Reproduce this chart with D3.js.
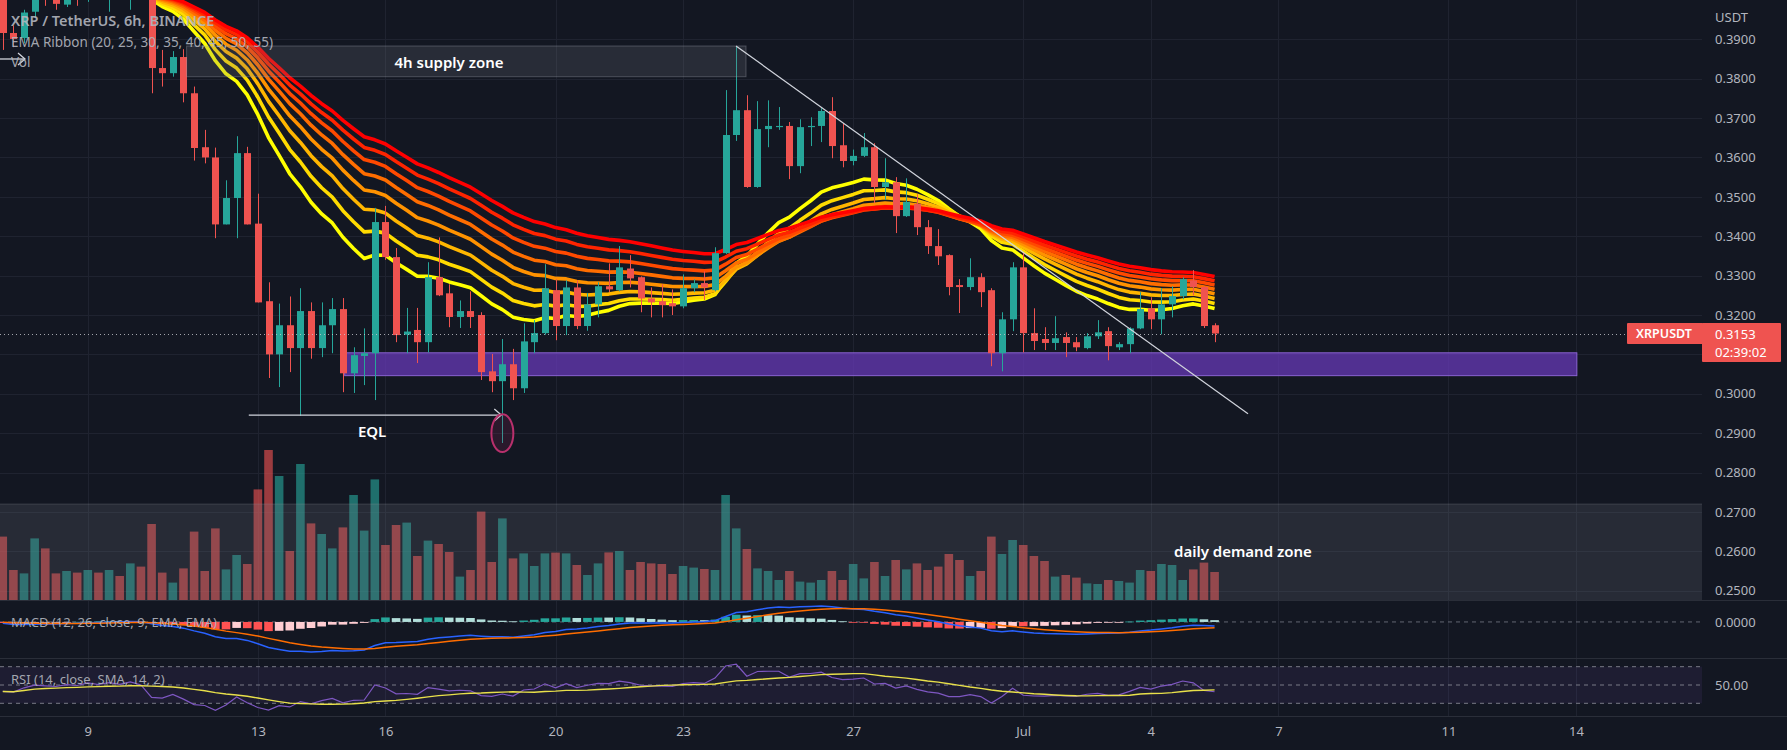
<!DOCTYPE html>
<html><head><meta charset="utf-8">
<script src="https://cdn.jsdelivr.net/npm/d3@7"></script>
<style>html,body{margin:0;padding:0;background:#131722;overflow:hidden}svg{display:block}</style>
</head><body>
<svg id="c" width="1787" height="750"></svg>
<script>
// ---------------- DATA ----------------
const firstCandle = "2022-06-07T00:00Z";   // 6h candles, XRP/USDT Binance
const opens  = [0.4035,0.3916,0.3903,0.3970,0.4012,0.4000,0.3988,0.4018,0.4005,0.4040,0.4020,0.4045,0.4025,0.4055,0.4020,0.3827,0.3814,0.3855,0.3763,0.3626,0.3600,0.3430,0.3497,0.3611,0.3432,0.3235,0.3100,0.3174,0.3116,0.3210,0.3116,0.3174,0.3215,0.3052,0.3096,0.3103,0.3436,0.3347,0.3150,0.3162,0.3131,0.3296,0.3255,0.3195,0.3210,0.3200,0.3057,0.3032,0.3075,0.3014,0.3131,0.3154,0.3263,0.3172,0.3270,0.3172,0.3227,0.3273,0.3263,0.3318,0.3296,0.3242,0.3235,0.3230,0.3222,0.3268,0.3281,0.3263,0.3357,0.3657,0.3720,0.3525,0.3672,0.3677,0.3680,0.3578,0.3677,0.3680,0.3718,0.3631,0.3591,0.3604,0.3626,0.3525,0.3537,0.3451,0.3482,0.3423,0.3375,0.3352,0.3276,0.3271,0.3296,0.3263,0.3103,0.3189,0.3321,0.3154,0.3139,0.3129,0.3144,0.3131,0.3116,0.3146,0.3159,0.3118,0.3126,0.3166,0.3217,0.3189,0.3227,0.3248,0.3288,0.3271,0.3174];
const highs  = [0.4060,0.3935,0.3975,0.4040,0.4050,0.4025,0.4040,0.4045,0.4060,0.4070,0.4065,0.4070,0.4075,0.4080,0.4040,0.3873,0.3870,0.3875,0.3780,0.3670,0.3625,0.3542,0.3654,0.3627,0.3508,0.3283,0.3229,0.3247,0.3268,0.3232,0.3232,0.3243,0.3243,0.3118,0.3166,0.3472,0.3477,0.3370,0.3218,0.3218,0.3334,0.3397,0.3278,0.3237,0.3260,0.3207,0.3101,0.3139,0.3114,0.3179,0.3187,0.3329,0.3291,0.3288,0.3288,0.3256,0.3283,0.3331,0.3375,0.3352,0.3298,0.3270,0.3278,0.3265,0.3303,0.3291,0.3311,0.3372,0.3771,0.3883,0.3758,0.3743,0.3745,0.3728,0.3690,0.3697,0.3702,0.3725,0.3753,0.3687,0.3620,0.3662,0.3636,0.3598,0.3550,0.3547,0.3507,0.3441,0.3418,0.3354,0.3291,0.3344,0.3306,0.3268,0.3207,0.3334,0.3359,0.3217,0.3169,0.3197,0.3156,0.3144,0.3154,0.3187,0.3169,0.3131,0.3169,0.3258,0.3245,0.3268,0.3273,0.3296,0.3314,0.3273,0.3179];
const lows   = [0.3873,0.3880,0.3890,0.3955,0.3985,0.3975,0.3982,0.3985,0.3995,0.4005,0.3970,0.4010,0.3975,0.4000,0.3763,0.3780,0.3805,0.3740,0.3592,0.3585,0.3395,0.3430,0.3395,0.3430,0.3232,0.3040,0.3017,0.3055,0.2944,0.3089,0.3093,0.3103,0.3004,0.3002,0.3022,0.2984,0.3340,0.3131,0.3103,0.3078,0.3105,0.3248,0.3169,0.3167,0.3167,0.3035,0.3004,0.2875,0.2984,0.3002,0.3103,0.3150,0.3136,0.3149,0.3164,0.3160,0.3194,0.3258,0.3260,0.3270,0.3207,0.3194,0.3194,0.3200,0.3217,0.3258,0.3238,0.3260,0.3355,0.3642,0.3523,0.3523,0.3626,0.3670,0.3545,0.3560,0.3629,0.3639,0.3598,0.3575,0.3580,0.3601,0.3484,0.3492,0.3408,0.3449,0.3403,0.3355,0.3327,0.3250,0.3205,0.3263,0.3220,0.3070,0.3057,0.3159,0.3105,0.3111,0.3111,0.3111,0.3093,0.3108,0.3113,0.3139,0.3085,0.3111,0.3103,0.3164,0.3164,0.3151,0.3194,0.3240,0.3250,0.3167,0.3131];
const closes = [0.3916,0.3901,0.3968,0.4012,0.4000,0.3990,0.4018,0.4005,0.4040,0.4020,0.4045,0.4025,0.4055,0.4020,0.3827,0.3814,0.3855,0.3763,0.3624,0.3600,0.3430,0.3497,0.3611,0.3430,0.3232,0.3100,0.3174,0.3116,0.3210,0.3116,0.3174,0.3215,0.3052,0.3098,0.3103,0.3436,0.3347,0.3149,0.3158,0.3131,0.3296,0.3250,0.3195,0.3210,0.3195,0.3055,0.3032,0.3075,0.3014,0.3133,0.3154,0.3268,0.3172,0.3270,0.3172,0.3227,0.3273,0.3265,0.3321,0.3293,0.3242,0.3232,0.3225,0.3222,0.3268,0.3281,0.3270,0.3357,0.3657,0.3720,0.3525,0.3672,0.3680,0.3680,0.3578,0.3677,0.3680,0.3718,0.3629,0.3591,0.3604,0.3626,0.3525,0.3537,0.3451,0.3487,0.3423,0.3375,0.3349,0.3271,0.3271,0.3296,0.3258,0.3103,0.3189,0.3321,0.3154,0.3134,0.3129,0.3141,0.3129,0.3118,0.3146,0.3156,0.3121,0.3126,0.3166,0.3215,0.3189,0.3227,0.3248,0.3291,0.3271,0.3172,0.3153];
const volumes = [31.7,15,13.3,30.8,25.8,13.3,14.5,13.7,15,13.7,15,12,18.3,16.7,38,13.7,8.7,15.8,34.2,14.5,35.8,15.3,22.5,18,55.3,75,62,24.5,68,38.3,33,25.8,36.3,52.5,34.7,60.3,27.5,37.5,38.7,22,29.7,28,24,11.7,15,44.2,19,40.8,20.8,23.3,17,23.3,23.7,23.3,17.5,12.5,18.3,23.8,24.5,15,19,18.3,18,13,17,16.2,15.5,15,52.5,35.8,25.5,15.8,14.5,10,14.5,9.2,8.7,10,14.5,10,18,10.8,19,12,20,15.3,18.3,15,16.7,23,20,12,14.5,31.7,23,30,27.5,22,19.5,11.7,12.5,11.2,8.3,8,10,9.5,8.7,15,14.5,18,17.5,10,15.3,18.7,14];
const priorLevel = 0.4035;            // price level before the first visible bar (seeds EMAs)
const rsiSeedGain = 0.0028, rsiSeedLoss = 0.0028;
const ribbonLengths = [20,25,30,35,40,45,50,55];
const priceGrid  = [0.39,0.38,0.37,0.36,0.35,0.34,0.33,0.32,0.31,0.30,0.29,0.28,0.27,0.26,0.25];
const priceTicks = [0.39,0.38,0.37,0.36,0.35,0.34,0.33,0.32,0.30,0.29,0.28,0.27,0.26,0.25]; // 0.3100 hidden under price tag
const timeTickDates  = ["2022-06-09","2022-06-13","2022-06-16","2022-06-20","2022-06-23","2022-06-27","2022-07-01","2022-07-04","2022-07-07","2022-07-11","2022-07-14"];
const timeTickLabels = ["9","13","16","20","23","27","Jul","4","7","11","14"];
const lastPrice = 0.3153, countdown = "02:39:02";
// drawings (time, price)
const supplyZone = {t0:"2022-06-11T07:46Z", t1:"2022-06-24T11:31Z", p0:0.3883, p1:0.3805, label:"4h supply zone", lt:"2022-06-17T11:53Z", lp:0.3843};
const demandZone = {t0:"2022-06-01T00:00Z", t1:"2022-07-31T00:00Z", p0:0.2720, p1:0.2400, label:"daily demand zone", lt:"2022-07-06T04:00Z", lp:0.2600};
const purpleZone = {t0:"2022-06-15T01:00Z", t1:"2022-07-14T00:29Z", p0:0.3104, p1:0.3046};
const trendLine  = {t0:"2022-06-24T05:53Z", p0:0.3883, t1:"2022-07-06T06:52Z", p1:0.2949};
const eqlLine    = {t0:"2022-06-12T18:52Z", t1:"2022-06-18T17:24Z", p:0.2946, label:"EQL", lt:"2022-06-15T16:28Z", lp:0.2906};
const sweepEllipse = {t:"2022-06-18T18:00Z", p:0.2900, hours:6.2, dp:0.0048};
const leftArrow  = {t0:"2022-06-06T22:00Z", t1:"2022-06-07T12:33Z", p:0.3850};

// ---------------- CHART ----------------
const W=1787, H=750, PR=1702;
const MAIN=[0,600], MACDP=[600,658], RSIP=[658,716];
const BG="#131722", TXT="#b2b5be", GRID="#1f2330", UP="#26a69a", DN="#ef5350";
const FONT="'Noto Sans', 'Liberation Sans', sans-serif";
const svg=d3.select("#c");
svg.append("rect").attr("width",W).attr("height",H).attr("fill",BG);

const x=d3.scaleUtc().domain([new Date("2022-06-09T00:00Z"),new Date("2022-07-14T00:00Z")]).range([87.8,1576]);
const y=d3.scaleLinear().domain([0.25,0.39]).range([590.7,39.3]);
const yVol=d3.scaleLinear().domain([0,75]).range([600,450]);
const yRsi=d3.scaleLinear().domain([30,70]).range([703.3,666.7]);
const t0=new Date(firstCandle).getTime();
const times=closes.map((_,i)=>new Date(t0+i*6*3600e3));
const T=s=>new Date(s);

const defs=svg.append("defs");
[["cm",MAIN],["cmacd",MACDP],["crsi",RSIP]].forEach(([id,r])=>{
  defs.append("clipPath").attr("id",id).append("rect").attr("x",0).attr("y",r[0]).attr("width",PR).attr("height",r[1]-r[0]);
});

// grid
const grid=svg.append("g");
timeTickDates.forEach(d=>{
  const xx=Math.round(x(T(d+"T00:00Z")))+0.5;
  grid.append("line").attr("x1",xx).attr("x2",xx).attr("y1",0).attr("y2",716).attr("stroke",GRID);
});
priceGrid.forEach(p=>{
  const yy=Math.round(y(p))+0.5;
  grid.append("line").attr("x1",0).attr("x2",PR).attr("y1",yy).attr("y2",yy).attr("stroke",GRID);
});
// pane separators
[600,658,716].forEach(v=>svg.append("line").attr("x1",0).attr("x2",W).attr("y1",v+0.5).attr("y2",v+0.5).attr("stroke","#2a2e39").attr("stroke-width",1));

const main=svg.append("g").attr("clip-path","url(#cm)");
const bw=8.6;
// volume
main.selectAll(".v").data(volumes).join("rect")
  .attr("x",(d,i)=>x(times[i])-bw/2).attr("width",bw)
  .attr("y",d=>yVol(d)).attr("height",d=>600-yVol(d))
  .attr("fill",(d,i)=>closes[i]>=opens[i]?UP:DN).attr("opacity",0.62);

// demand zone (over volume)
main.append("rect").attr("x",x(T(demandZone.t0))).attr("width",x(T(demandZone.t1))-x(T(demandZone.t0)))
  .attr("y",y(demandZone.p0)).attr("height",y(demandZone.p1)-y(demandZone.p0))
  .attr("fill","rgba(120,123,134,0.2)").attr("stroke","rgba(150,153,164,0.25)");

// purple zone (under candles)
main.append("rect").attr("x",x(T(purpleZone.t0))).attr("width",x(T(purpleZone.t1))-x(T(purpleZone.t0)))
  .attr("y",y(purpleZone.p0)).attr("height",y(purpleZone.p1)-y(purpleZone.p0))
  .attr("fill","rgba(103,58,183,0.75)").attr("stroke","#8a63d2").attr("stroke-width",1);

// EMA ribbon
function ema(vals,len,seed){const a=2/(len+1);let e=seed;return vals.map(v=>(e=e+a*(v-e)));}
const ribbonColor=d3.interpolateRgb("#ffff00","#ff0000");
const line=d3.line().x((d,i)=>x(times[i])).y(d=>y(d));
ribbonLengths.forEach((len,k)=>{
  main.append("path").attr("d",line(ema(closes,len,priorLevel))).attr("fill","none")
    .attr("stroke",ribbonColor(k/(ribbonLengths.length-1))).attr("stroke-width",3.6).attr("stroke-linejoin","round");
});

// candles
const cg=main.append("g");
closes.forEach((c,i)=>{
  const xx=Math.round(x(times[i]))+0.5, col=c>=opens[i]?UP:DN;
  cg.append("line").attr("x1",xx).attr("x2",xx).attr("y1",y(highs[i])).attr("y2",y(lows[i])).attr("stroke",col).attr("stroke-width",1);
  const top=Math.min(y(opens[i]),y(c)), h=Math.max(1,Math.abs(y(opens[i])-y(c)));
  cg.append("rect").attr("x",xx-3.5).attr("width",7).attr("y",top).attr("height",h).attr("fill",col);
});

// supply zone
main.append("rect").attr("x",x(T(supplyZone.t0))).attr("width",x(T(supplyZone.t1))-x(T(supplyZone.t0)))
  .attr("y",y(supplyZone.p0)).attr("height",y(supplyZone.p1)-y(supplyZone.p0))
  .attr("fill","rgba(120,123,134,0.22)").attr("stroke","rgba(160,163,174,0.35)");
function note(t,p,s){
  main.append("text").attr("x",x(T(t))).attr("y",y(p)).attr("text-anchor","middle").attr("dominant-baseline","central")
    .attr("fill","#ffffff").attr("font-family",FONT).attr("font-size",15).attr("font-weight",600).text(s);
}
note(supplyZone.lt,supplyZone.lp,supplyZone.label);
note(demandZone.lt,demandZone.lp,demandZone.label);

// trend line
main.append("line").attr("x1",x(T(trendLine.t0))).attr("y1",y(trendLine.p0)).attr("x2",x(T(trendLine.t1))).attr("y2",y(trendLine.p1))
  .attr("stroke","#d1d4dc").attr("stroke-width",1.2);
// EQL arrow
function arrow(g,x1,x2,yy){
  g.append("line").attr("x1",x1).attr("x2",x2).attr("y1",yy).attr("y2",yy).attr("stroke","#d1d4dc").attr("stroke-width",1.3);
  g.append("path").attr("d",`M${x2-7},${yy-6}L${x2},${yy}L${x2-7},${yy+6}`).attr("fill","none").attr("stroke","#d1d4dc").attr("stroke-width",1.3);
}
arrow(main,x(T(eqlLine.t0)),x(T(eqlLine.t1)),y(eqlLine.p));
note(eqlLine.lt,eqlLine.lp,eqlLine.label);
arrow(main,x(T(leftArrow.t0)),x(T(leftArrow.t1)),y(leftArrow.p));
// ellipse
{
  const ct=T(sweepEllipse.t), cx=x(ct);
  const rx=x(new Date(ct.getTime()+sweepEllipse.hours*3600e3))-cx;
  const ry=y(sweepEllipse.p-sweepEllipse.dp)-y(sweepEllipse.p);
  main.append("ellipse").attr("cx",cx).attr("cy",y(sweepEllipse.p)).attr("rx",rx).attr("ry",ry)
    .attr("fill","rgba(156,39,96,0.18)").attr("stroke","#b8306c").attr("stroke-width",2);
}

// current price line
main.append("line").attr("x1",0).attr("x2",PR).attr("y1",Math.round(y(lastPrice))+0.5).attr("y2",Math.round(y(lastPrice))+0.5)
  .attr("stroke","#c8cad0").attr("stroke-dasharray","1,3").attr("opacity",0.8);

// ---------------- MACD ----------------
const e12=ema(closes,12,priorLevel), e26=ema(closes,26,priorLevel);
const macd=e12.map((v,i)=>v-e26[i]);
const signal=ema(macd,9,0);
const hist=macd.map((v,i)=>v-signal[i]);
const mAll=macd.concat(signal,hist);
const yM=d3.scaleLinear().domain([d3.min(mAll),d3.max(mAll)]).range([652,606]);
const mg=svg.append("g").attr("clip-path","url(#cmacd)");
mg.append("line").attr("x1",0).attr("x2",PR).attr("y1",yM(0)).attr("y2",yM(0)).attr("stroke","#787b86").attr("stroke-dasharray","4,4").attr("opacity",0.8);
hist.forEach((h,i)=>{
  const prev=i>0?hist[i-1]:0;
  const col=h>=0?(h>prev?"#26a69a":"#b2dfdb"):(h<prev?"#ff5252":"#ffcdd2");
  mg.append("rect").attr("x",x(times[i])-4.3).attr("width",8.6).attr("y",Math.min(yM(0),yM(h))).attr("height",Math.max(0.8,Math.abs(yM(h)-yM(0)))).attr("fill",col);
});
const lm=d3.line().x((d,i)=>x(times[i])).y(d=>yM(d));
mg.append("path").attr("d",lm(macd)).attr("fill","none").attr("stroke","#2962ff").attr("stroke-width",1.5);
mg.append("path").attr("d",lm(signal)).attr("fill","none").attr("stroke","#ff6d00").attr("stroke-width",1.5);

// ---------------- RSI ----------------
let ag=rsiSeedGain, al=rsiSeedLoss, prev=priorLevel;
const rsi=closes.map(c=>{const ch=c-prev;prev=c;ag=(ag*13+Math.max(ch,0))/14;al=(al*13+Math.max(-ch,0))/14;return 100-100/(1+ag/al);});
const rsiMa=rsi.map((v,i)=>d3.mean(rsi.slice(Math.max(0,i-13),i+1)));
const rg=svg.append("g").attr("clip-path","url(#crsi)");
rg.append("rect").attr("x",0).attr("width",PR).attr("y",yRsi(70)).attr("height",yRsi(30)-yRsi(70)).attr("fill","rgba(126,87,194,0.1)");
[70,50,30].forEach(v=>rg.append("line").attr("x1",0).attr("x2",PR).attr("y1",yRsi(v)).attr("y2",yRsi(v)).attr("stroke","#787b86").attr("stroke-dasharray","4,4"));
const lr=d3.line().x((d,i)=>x(times[i])).y(d=>yRsi(d));
rg.append("path").attr("d",lr(rsi)).attr("fill","none").attr("stroke","#7e57c2").attr("stroke-width",1.2);
rg.append("path").attr("d",lr(rsiMa)).attr("fill","none").attr("stroke","#e8e04a").attr("stroke-width",1.4);

// ---------------- AXES ----------------
function styleAxis(g){g.select(".domain").remove();g.selectAll("text").attr("fill",TXT).attr("font-family",FONT).attr("font-size",13);}
svg.append("g").attr("transform",`translate(${PR},0)`)
  .call(d3.axisRight(y).tickValues(priceTicks).tickFormat(d3.format(".4f")).tickSize(0).tickPadding(13)).call(styleAxis);
svg.append("g").attr("transform",`translate(${PR},0)`)
  .call(d3.axisRight(yM).tickValues([0]).tickFormat(d3.format(".4f")).tickSize(0).tickPadding(13)).call(styleAxis);
svg.append("g").attr("transform",`translate(${PR},0)`)
  .call(d3.axisRight(yRsi).tickValues([50]).tickFormat(d3.format(".2f")).tickSize(0).tickPadding(13)).call(styleAxis);
svg.append("g").attr("transform","translate(0,716)")
  .call(d3.axisBottom(x).tickValues(timeTickDates.map(d=>T(d+"T00:00Z"))).tickFormat((d,i)=>timeTickLabels[i]).tickSize(0).tickPadding(11)).call(styleAxis);
svg.append("text").attr("x",1715).attr("y",17).attr("dominant-baseline","central").attr("fill",TXT).attr("font-family",FONT).attr("font-size",13).text("USDT");

// last price label
{
  const yy=y(lastPrice);
  svg.append("rect").attr("x",1627).attr("y",yy-10.5).attr("width",76).attr("height",21).attr("fill",DN).attr("rx",1);
  svg.append("rect").attr("x",1702).attr("y",yy-10.5).attr("width",79).attr("height",39).attr("fill",DN).attr("rx",1);
  svg.append("text").attr("x",1664).attr("y",yy).attr("text-anchor","middle").attr("dominant-baseline","central").attr("fill","#fff").attr("font-family",FONT).attr("font-size",12.5).attr("font-weight",600).text("XRPUSDT");
  svg.append("text").attr("x",1715).attr("y",yy).attr("dominant-baseline","central").attr("fill","#fff").attr("font-family",FONT).attr("font-size",13).text(d3.format(".4f")(lastPrice));
  svg.append("text").attr("x",1715).attr("y",yy+18.5).attr("dominant-baseline","central").attr("fill","#fff").attr("font-family",FONT).attr("font-size",13).text(countdown);
}

// legends
const leg=[["XRP / TetherUS, 6h, BINANCE",20,14.5,600],["EMA Ribbon (20, 25, 30, 35, 40, 45, 50, 55)",42,13.5,400],["Vol",62,13.5,400],
           ["MACD (12, 26, close, 9, EMA, EMA)",622,13,400],["RSI (14, close, SMA, 14, 2)",679,13,400]];
leg.forEach(([t,yy,fs,fw])=>svg.append("text").attr("x",11).attr("y",yy).attr("dominant-baseline","central")
  .attr("fill",TXT).attr("font-family",FONT).attr("font-size",fs).attr("font-weight",fw).attr("opacity",0.9).text(t));
</script>
</body></html>
